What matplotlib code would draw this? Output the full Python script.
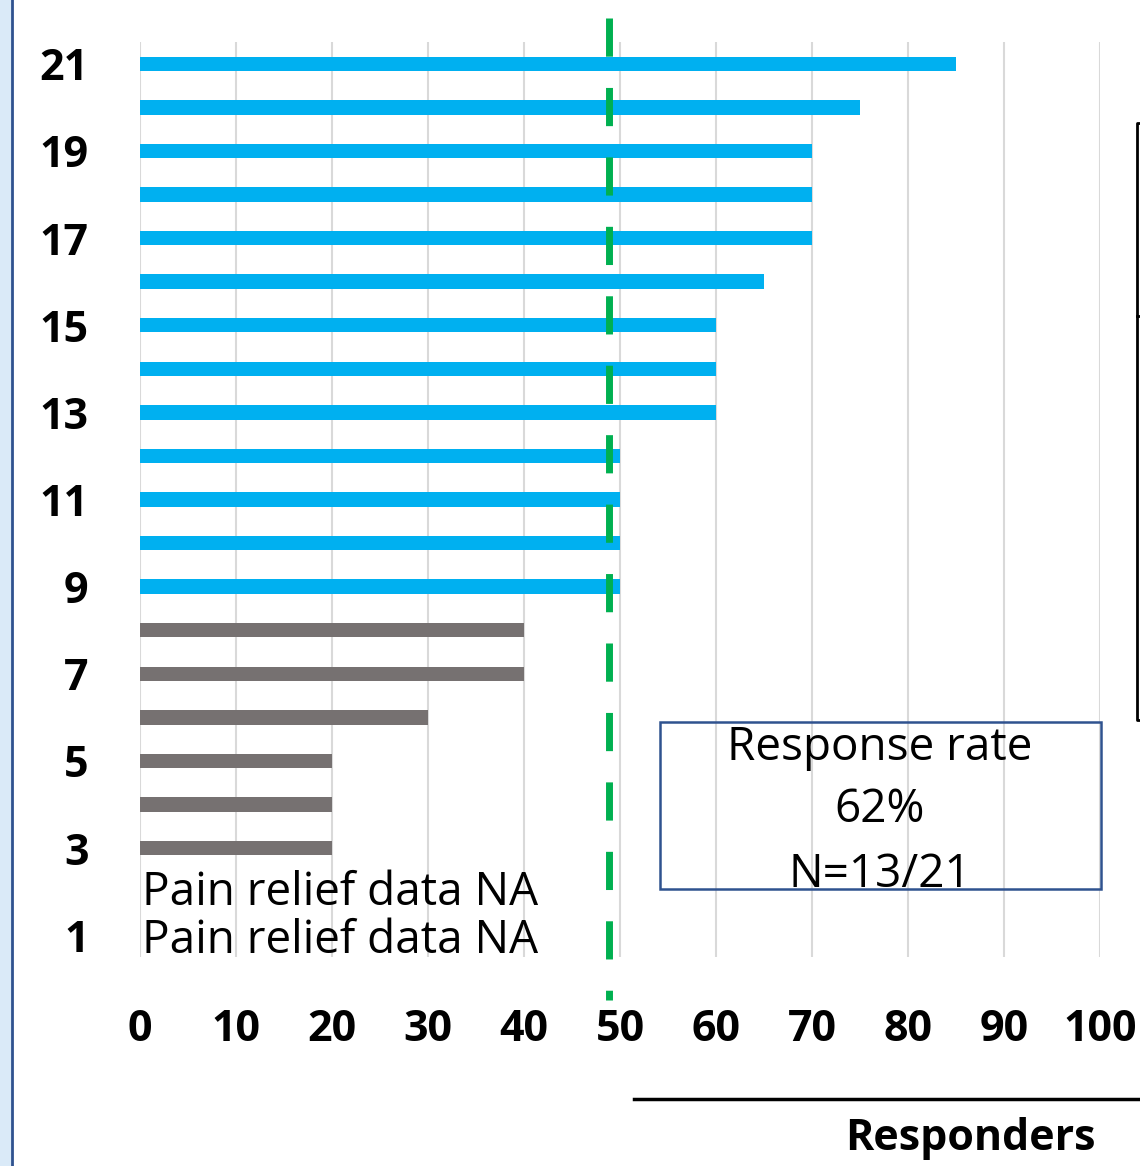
import matplotlib
matplotlib.use("Agg")
import matplotlib.pyplot as plt
from matplotlib.patches import Rectangle
from matplotlib.lines import Line2D

# Patient-level pain relief (%), patients 1..21
patients = list(range(1, 22))
relief = [None, None, 20, 20, 20, 30, 40, 40, 50, 50, 50, 50, 60, 60, 60, 65, 70, 70, 70, 75, 85]
threshold = 49
na_label = "Pain relief data NA"
x_ticks = [0, 10, 20, 30, 40, 50, 60, 70, 80, 90, 100]
y_ticks = [1, 3, 5, 7, 9, 11, 13, 15, 17, 19, 21]
rate_lines = ["Response rate", "62%", "N=13/21"]
responder_label = "Responders"

BLUE = "#00B0F0"
GREY = "#767171"
GREEN = "#00B050"
FS = 31      # bold labels
FS_TXT = 33  # regular annotation text

plt.rcParams["font.family"] = ["Open Sans", "DejaVu Sans"]

W, H = 1140, 1166
fig = plt.figure(figsize=(W / 100, H / 100), dpi=100)


def fx(px):
    return px / W


def fy(py):
    return 1 - py / H


ax = fig.add_axes([fx(140), fy(957), fx(1100) - fx(140), fy(42) - fy(957)])
ax.set_xlim(0, 100)
ax.set_ylim(0.5, 21.5)

for p, v in zip(patients, relief):
    if v is None:
        continue
    color = BLUE if v >= 50 else GREY
    ax.barh(p, v, height=0.33, color=color, zorder=3)

# rows without data
na_baselines = {2: 905, 1: 953}
for p, v in zip(patients, relief):
    if v is None:
        fig.text(fx(142), fy(na_baselines[p]), na_label, fontsize=FS_TXT,
                 va="baseline", ha="left", color="black", zorder=5)

ax.set_xticks(x_ticks)
ax.set_yticks(y_ticks)
ax.tick_params(axis="both", length=0, labelsize=FS)
ax.tick_params(axis="y", pad=37)
ax.tick_params(axis="x", pad=37)
for lab in ax.get_xticklabels() + ax.get_yticklabels():
    lab.set_fontweight("bold")
ax.grid(axis="x", color="#D9D9D9", linewidth=1.5, zorder=0)
for s in ax.spines.values():
    s.set_visible(False)

# responder threshold
fig.add_artist(Line2D([fx(609), fx(609)], [fy(18), fy(1000)], color=GREEN,
                      linewidth=5, linestyle=(0, (5.5, 4.5)), zorder=6))

# response-rate box
fig.add_artist(Rectangle((fx(660), fy(889)), fx(1101) - fx(660), fy(722) - fy(889),
                         fill=False, edgecolor="#2F528F", linewidth=1.8, zorder=7))
for t, base in zip(rate_lines, [760, 822, 887]):
    fig.text(fx(880), fy(base), t, fontsize=FS_TXT, ha="center", va="baseline", zorder=8)

# bracket on right edge
fig.add_artist(Line2D([fx(1145), fx(1137), fx(1137), fx(1145)],
                      [fy(123), fy(123), fy(720), fy(720)], color="black", linewidth=2))
fig.add_artist(Line2D([fx(1137), fx(1145)], [fy(316), fy(316)], color="black", linewidth=2))

# page edge on the left
fig.add_artist(Rectangle((0, 0), fx(11), 1, color="#DAEAF8", zorder=1))
fig.add_artist(Line2D([fx(12), fx(12)], [0, 1], color="#2F528F", linewidth=2))

# responders header
fig.add_artist(Line2D([fx(634), 1], [fy(1099), fy(1099)], color="black", linewidth=2.5))
fig.text(fx(970), fy(1150), responder_label, fontsize=FS, fontweight="bold",
         ha="center", va="baseline")

fig.savefig("out.png", dpi=100)
